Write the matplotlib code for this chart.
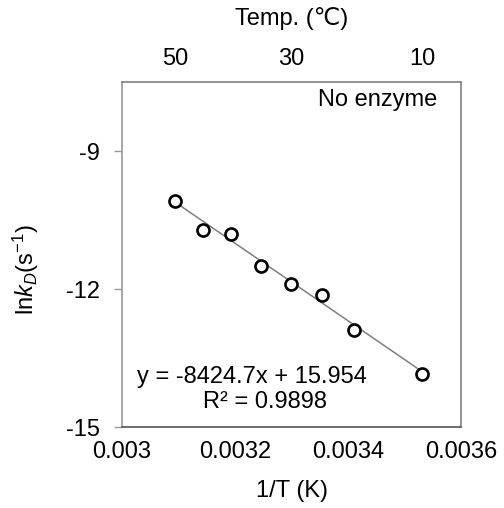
import matplotlib
matplotlib.use("Agg")
import matplotlib.pyplot as plt
import numpy as np

plt.rcParams['font.family'] = ['Liberation Sans', 'DejaVu Sans']
plt.rcParams['mathtext.fontset'] = 'custom'
plt.rcParams['mathtext.rm'] = 'Liberation Sans'
plt.rcParams['mathtext.it'] = 'Liberation Sans:italic'
plt.rcParams['axes.unicode_minus'] = False

temps_c = [50, 45, 40, 35, 30, 25, 20, 10]
ln_kd = [-10.09, -10.72, -10.80, -11.51, -11.90, -12.13, -12.90, -13.85]
slope = -8424.7
intercept = 15.954
top_ticks_c = [50, 30, 10]
x_ticks = [0.003, 0.0032, 0.0034, 0.0036]
x_tick_labels = ['0.003', '0.0032', '0.0034', '0.0036']
y_ticks = [-15, -12, -9]

inv_T = [1.0 / (t + 273.15) for t in temps_c]
FS = 17

fig = plt.figure(figsize=(5.04, 5.08), dpi=100)
ax = fig.add_axes([122/504, 1 - 427/508, (461-122)/504, (427-82)/508])

xl = np.array([min(inv_T), max(inv_T)])
ax.plot(xl, slope * xl + intercept, color='#7f7f7f', lw=1.1, zorder=2)
ax.scatter(inv_T, ln_kd, s=75, facecolors='white', edgecolors='black', linewidths=1.9, zorder=3)

ax.set_xlim(0.003, 0.0036)
ax.set_ylim(-15, -7.5)
ax.set_xticks(x_ticks)
ax.set_xticklabels(x_tick_labels)
ax.set_yticks(y_ticks)
ax.tick_params(axis='x', length=0, labelsize=FS, pad=10, colors='black')
ax.tick_params(axis='y', length=6, width=1, color='#999999', labelsize=FS, pad=10)

ax.spines['left'].set_color('#9a9a9a')
ax.spines['bottom'].set_color('#555555')
ax.spines['top'].set_color('#808080')
ax.spines['right'].set_color('#808080')
for s in ax.spines.values():
    s.set_linewidth(1.2)

ax.set_xlabel('1/T (K)', fontsize=FS, labelpad=12)
ax.set_ylabel(r'ln$\mathit{k}_{\mathit{D}}$(s$^{-1}$)', fontsize=FS)
ax.yaxis.set_label_coords(-0.24, 0.455)

sec = ax.secondary_xaxis('top', functions=(lambda x: x, lambda x: x))
sec.set_xticks([1.0 / (t + 273.15) for t in top_ticks_c])
sec.set_xticklabels([str(t) for t in top_ticks_c])
sec.tick_params(length=0, labelsize=FS, pad=8.5)
sec.spines['top'].set_visible(False)
sec.set_xlabel('Temp. (\u2103)', fontsize=FS, labelpad=16.5)

ax.text(0.93, 0.948, 'No enzyme', transform=ax.transAxes, ha='right', va='center', fontsize=FS)
ax.text(0.383, 0.145, 'y = -8424.7x + 15.954', transform=ax.transAxes, ha='center', va='center', fontsize=FS)
ax.text(0.422, 0.072, 'R² = 0.9898', transform=ax.transAxes, ha='center', va='center', fontsize=FS)

fig.savefig('out.png', dpi=100)
